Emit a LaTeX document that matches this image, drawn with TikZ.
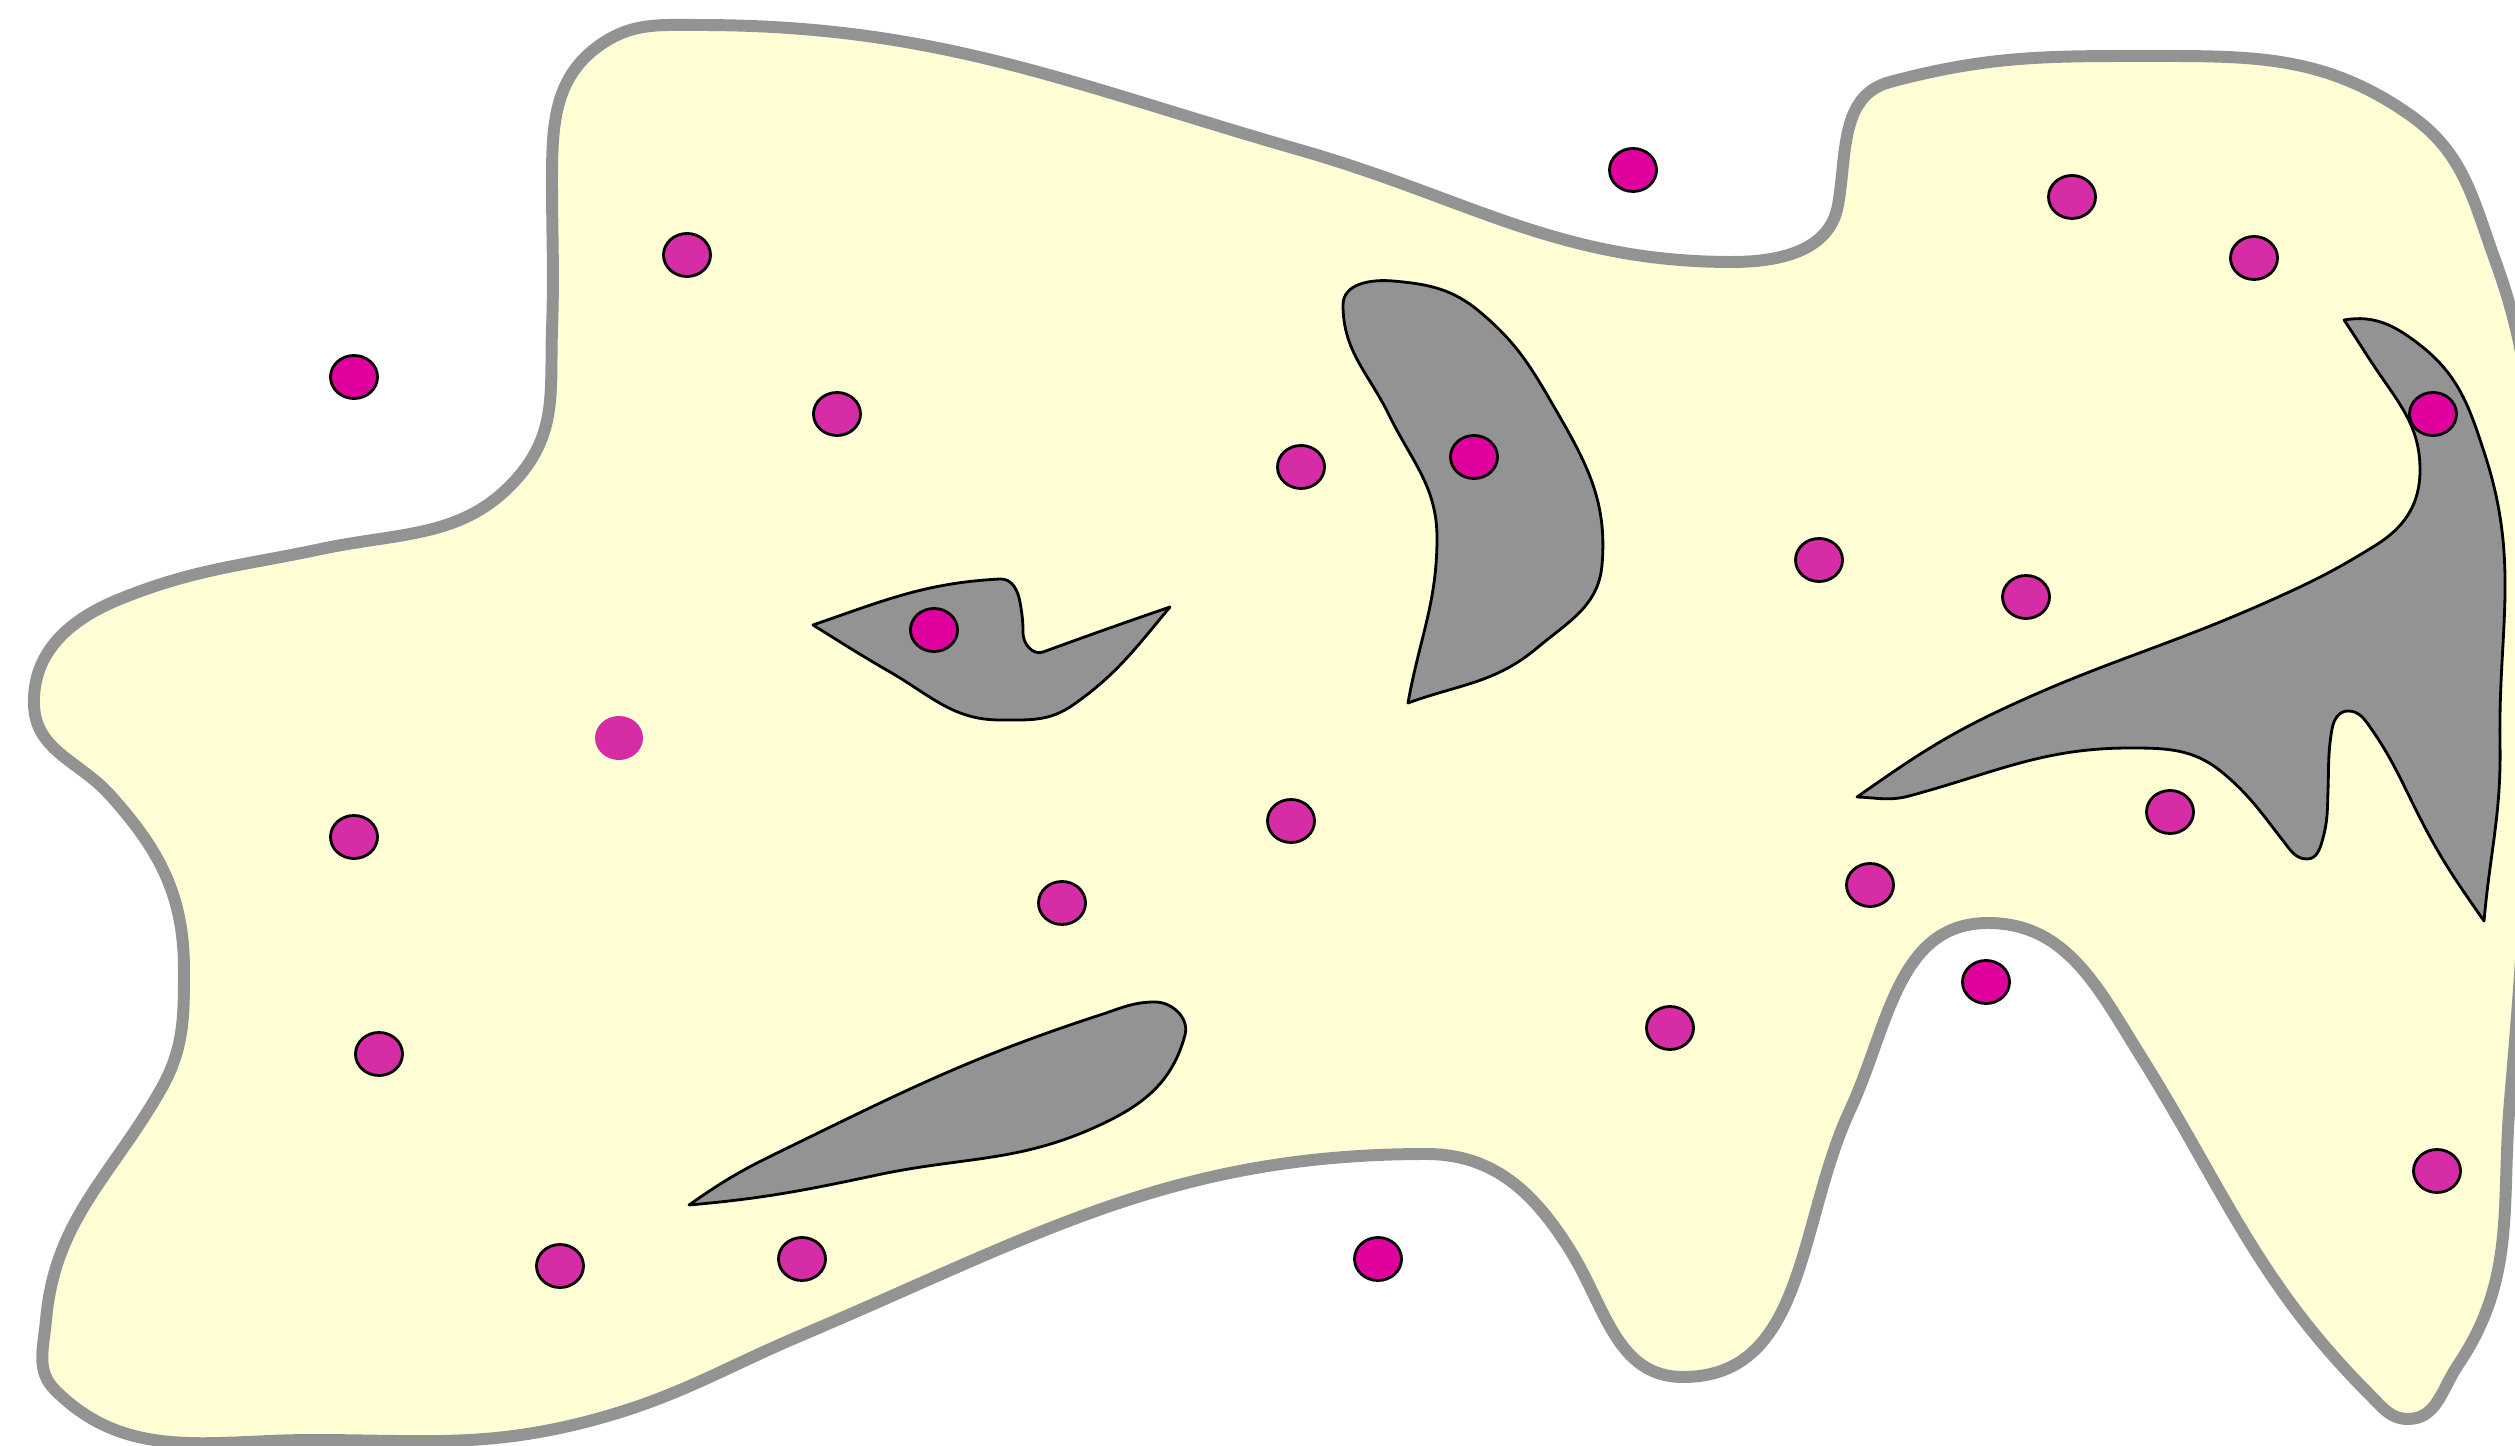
\documentclass[tikz,border=0pt]{standalone}
\usepackage{tikz}

\definecolor{blobFill}{RGB}{255,254,213}
\definecolor{blobEdge}{RGB}{147,147,147}
\definecolor{holeFill}{RGB}{147,147,147}
\definecolor{cellDark}{RGB}{224,0,158}
\definecolor{cellLight}{RGB}{214,45,166}

\begin{document}
\begin{tikzpicture}[
    x=0.01cm, y=0.01cm,
    blobShape/.style={
        fill=blobFill, draw=blobEdge, line width=3.4pt, line join=round
    },
    holeShape/.style={
        fill=holeFill, draw=black, line width=0.8pt, line join=round
    },
    darkDot/.style={
        fill=cellDark, draw=black, line width=0.8pt
    },
    lightDot/.style={
        fill=cellLight, draw=black, line width=0.8pt
    },
    plainDot/.style={
        fill=cellLight
    }
]

\useasboundingbox (0,0) rectangle (2515,1445);
\clip (0,0) rectangle (2515,1445);

% Outer region
\draw[blobShape] (698,1420) to[out=0,in=164] (1300,1295)
    to[out=-16,in=180] (1732,1183)
    to[out=0,in=260] (1838,1240)
    to[out=80,in=195] (1890,1363)
    to[out=15,in=180] (2150,1389)
    to[out=0,in=145] (2410,1330)
    to[out=-35,in=110] (2495,1185)
    to[out=-70,in=90] (2530,805)
    to[out=-90,in=85] (2510,345)
    to[out=-95,in=56] (2458,80)
    to[out=236,in=0] (2408,26)
    to[out=180,in=-45] (2370,50)
    to[out=135,in=-58] (2140,390)
    to[out=122,in=0] (1988,522)
    to[out=180,in=65] (1850,335)
    to[out=245,in=0] (1683,68)
    to[out=180,in=-58] (1570,195)
    to[out=122,in=0] (1426,291)
    to[out=180,in=23] (802,110)
    to[out=203,in=15] (593,25)
    to[out=195,in=0] (312,5)
    to[out=180,in=-45] (55,55)
    to[out=135,in=-95] (46,125)
    to[out=85,in=240] (160,354)
    to[out=60,in=270] (184,475)
    to[out=90,in=-48] (110,650)
    to[out=132,in=-88] (34,740)
    to[out=92,in=202] (120,846)
    to[out=22,in=192] (321,896)
    to[out=12,in=230] (520,970)
    to[out=50,in=268] (552,1115)
    to[out=88,in=270] (552,1265)
    to[out=90,in=215] (600,1400)
    to[out=35,in=180] (698,1420) -- cycle;

% Holes
\draw[holeShape] (813,820) to[out=19,in=183] (1000,866)
    to[out=3,in=100] (1020,843)
    to[out=-80,in=90] (1023,812)
    to[out=-90,in=200] (1043,793)
    to[out=20,in=199] (1170,838)
    to[out=230,in=35] (1073,740)
    to[out=215,in=0] (1000,725)
    to[out=180,in=-30] (890,773)
    to[out=150,in=-32] (813,820) -- cycle;
\draw[holeShape] (1343,1140) to[out=90,in=175] (1393,1164)
    to[out=-5,in=140] (1480,1133)
    to[out=-40,in=120] (1553,1040)
    to[out=-60,in=85] (1602,880)
    to[out=-95,in=40] (1537,797)
    to[out=-140,in=20] (1408,742)
    to[out=80,in=270] (1437,907)
    to[out=90,in=-64] (1389,1030)
    to[out=116,in=-90] (1343,1140) -- cycle;
\draw[holeShape] (689,240) to[out=5,in=192] (877,270)
    to[out=12,in=205] (1100,320)
    to[out=25,in=255] (1185,410)
    to[out=75,in=0] (1155,443)
    to[out=180,in=18] (1100,430)
    to[out=198,in=26] (773,290)
    to[out=206,in=35] (689,240) -- cycle;
\draw[holeShape] (2344,1125) to[out=10,in=142] (2420,1100)
    to[out=-38,in=108] (2485,990)
    to[out=-72,in=91] (2500,700)
    to[out=-89,in=85] (2484,524)
    to[out=125,in=-63] (2420,627)
    to[out=117,in=-55] (2370,718)
    to[out=125,in=0] (2348,734)
    to[out=180,in=80] (2332,716)
    to[out=260,in=88] (2328,655)
    to[out=268,in=75] (2323,607)
    to[out=255,in=0] (2307,586)
    to[out=180,in=-52] (2284,603)
    to[out=128,in=-40] (2223,672)
    to[out=140,in=0] (2130,697)
    to[out=180,in=15] (1909,649)
    to[out=195,in=-2] (1857,648)
    to[out=35,in=205] (2005,737)
    to[out=25,in=204] (2267,843)
    to[out=24,in=212] (2376,900)
    to[out=32,in=270] (2420,975)
    to[out=90,in=-56] (2376,1076)
    to[out=124,in=-56] (2344,1125) -- cycle;

% Dots
\foreach \px/\py in {1633/1275, 354/1068, 1474/988, 2433/1031, 934/815, 1986/463, 1378/186}
    \filldraw[darkDot] (\px,\py) ellipse [x radius=0.235cm, y radius=0.215cm];
\foreach \px/\py in {2072/1248, 2254/1187, 687/1190, 837/1031, 1301/978, 1819/885,
    2026/848, 354/608, 1291/624, 1062/542, 2170/633, 1870/560, 1670/417,
    379/391, 2437/274, 560/179, 802/186}
    \filldraw[lightDot] (\px,\py) ellipse [x radius=0.235cm, y radius=0.215cm];
\fill[plainDot] (619,707) ellipse [x radius=0.24cm, y radius=0.22cm];

\end{tikzpicture}
\end{document}
